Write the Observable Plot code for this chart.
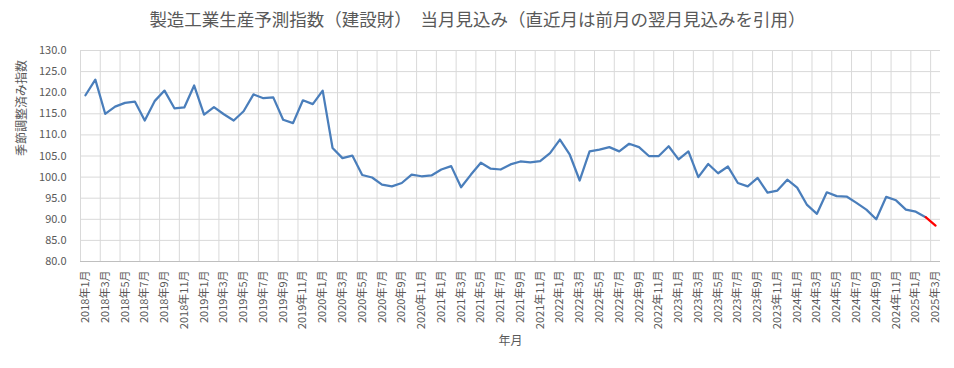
<!DOCTYPE html>
<html>
<head>
<meta charset="utf-8">
<script src="https://cdn.jsdelivr.net/npm/d3@7"></script>
<script src="https://cdn.jsdelivr.net/npm/@observablehq/plot@0.6"></script>
<style>
  html, body { margin: 0; padding: 0; background: #ffffff; }
  #chart svg { display: block; }
</style>
</head>
<body>
<div id="chart"></div>
<script>
// Title and axis titles
const titleText = "製造工業生産予測指数（建設財）　当月見込み（直近月は前月の翌月見込みを引用）";
const yTitle = "季節調整済み指数";
const xTitle = "年月";

// Categories: months from 2018年1月 to 2025年3月
const years = [2018, 2019, 2020, 2021, 2022, 2023, 2024, 2025];
const monthsPerYear = [12, 12, 12, 12, 12, 12, 12, 3];
const labels = [];
years.forEach((y, k) => { for (let m = 1; m <= monthsPerYear[k]; m++) labels.push(`${y}年${m}月`); });

// Series values (当月見込み)
const values = [
  119.4, 123.1, 115.0, 116.7, 117.6, 117.9, 113.4, 118.0, 120.5, 116.3, 116.5, 121.7,
  114.8, 116.6, 114.9, 113.4, 115.6, 119.6, 118.7, 118.9, 113.6, 112.8, 118.2, 117.3,
  120.5, 106.9, 104.5, 105.1, 100.5, 99.9, 98.2, 97.8, 98.6, 100.6, 100.2, 100.4,
  101.8, 102.6, 97.6, 100.6, 103.4, 102.0, 101.8, 103.0, 103.7, 103.5, 103.8, 105.7,
  108.9, 105.3, 99.2, 106.1, 106.5, 107.1, 106.1, 107.9, 107.1, 105.0, 105.0, 107.3,
  104.2, 106.1, 100.0, 103.1, 100.9, 102.5, 98.6, 97.8, 99.8, 96.3, 96.8, 99.4,
  97.5, 93.4, 91.3, 96.4, 95.5, 95.4, 93.9, 92.3, 90.0, 95.3, 94.5, 92.3,
  91.8, 90.5, 88.5
];
// the last segment (直近月) drawn in red
const redStart = 85;

const yTicks = [80, 85, 90, 95, 100, 105, 110, 115, 120, 125, 130];

const data = values.map((v, i) => ({i, v}));
const blueData = data.filter(d => d.i <= redStart);
const redData = data.filter(d => d.i >= redStart);
const labelIdx = labels.map((_, i) => i).filter(i => i % 2 === 0);
const gridX = labelIdx.map(i => i - 0.5);

const font = "'Noto Sans CJK JP', 'Noto Sans', sans-serif";

const chart = Plot.plot({
  width: 954,
  height: 368,
  marginLeft: 80,
  marginRight: 14,
  marginTop: 50,
  marginBottom: 107,
  style: {fontFamily: font, color: "#595959", background: "#ffffff", overflow: "visible"},
  x: {domain: [-0.5, labels.length - 0.5], axis: null},
  y: {domain: [80, 130], axis: null},
  marks: [
    Plot.ruleY(yTicks, {stroke: "#d9d9d9", strokeWidth: 1}),
    Plot.ruleX(gridX, {stroke: "#d9d9d9", strokeWidth: 1}),
    Plot.ruleY([80], {stroke: "#bfbfbf", strokeWidth: 1}),
    Plot.axisY(yTicks, {label: null, tickSize: 0, tickPadding: 14, tickFormat: d => d.toFixed(1), fontSize: 11, fill: "#595959"}),
    Plot.axisX(labelIdx, {label: null, tickSize: 0, tickPadding: 9, tickRotate: -90, tickFormat: i => labels[i], fontSize: 11, fill: "#595959"}),
    Plot.line(blueData, {x: "i", y: "v", stroke: "#4a7ebb", strokeWidth: 2.25, strokeLinejoin: "round"}),
    Plot.line(redData, {x: "i", y: "v", stroke: "#ff0000", strokeWidth: 2.25}),
    Plot.text([titleText], {frameAnchor: "top", dx: -33, dy: -30, lineAnchor: "middle", fontSize: 17.5, fill: "#595959"}),
    Plot.text([yTitle], {frameAnchor: "left", dx: -58, rotate: -90, lineAnchor: "middle", fontSize: 12, fill: "#595959"}),
    Plot.text([xTitle], {frameAnchor: "bottom", dy: 80, lineAnchor: "middle", fontSize: 12, fill: "#595959"})
  ]
});
document.getElementById("chart").appendChild(chart);
</script>
</body>
</html>
